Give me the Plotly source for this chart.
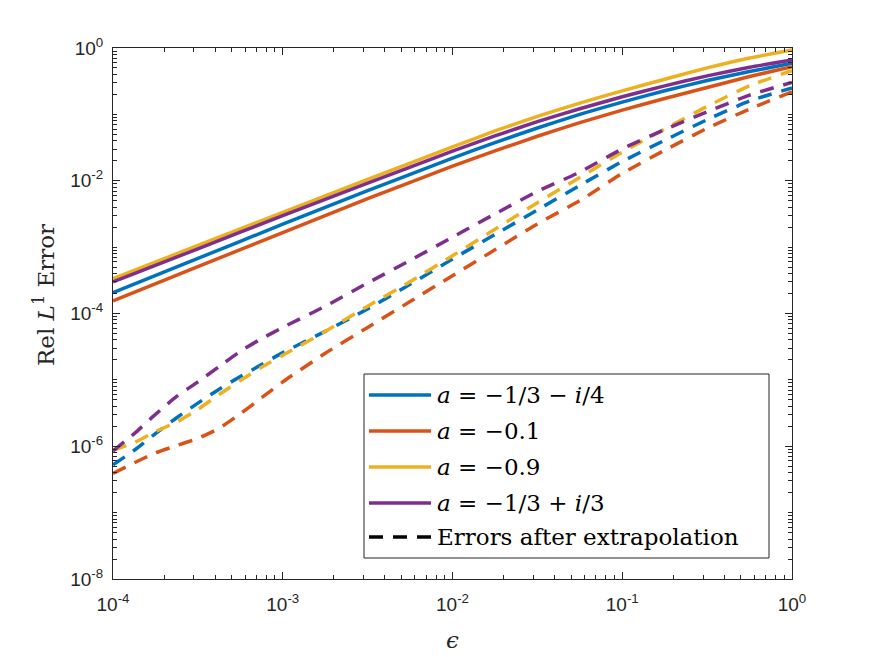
import numpy as np
import plotly.graph_objects as go

# ---------------- data (stored as log10) ----------------
solid_eps_log10 = [-4, -3.5, -3, -2.5, -2, -1.75, -1.5, -1.25, -1, -0.75, -0.5, -0.25, 0]
blue_solid_log10 = [-3.687, -3.17, -2.655, -2.15, -1.66, -1.425, -1.205, -1.0, -0.815, -0.645, -0.49, -0.355, -0.23]
orange_solid_log10 = [-3.81, -3.295, -2.78, -2.27, -1.78, -1.55, -1.33, -1.125, -0.935, -0.76, -0.595, -0.43, -0.28]
yellow_solid_log10 = [-3.475, -2.975, -2.475, -1.98, -1.49, -1.25, -1.03, -0.83, -0.645, -0.47, -0.30, -0.15, -0.03]
purple_solid_log10 = [-3.525, -3.025, -2.525, -2.035, -1.555, -1.325, -1.11, -0.915, -0.735, -0.57, -0.42, -0.29, -0.18]

dash_eps_log10 = [-4, -3.875, -3.75, -3.625, -3.5, -3.375, -3.25, -3.125, -3, -2.75, -2.5,
                  -2.25, -2, -1.75, -1.5, -1.25, -1, -0.75, -0.5, -0.25, 0]
blue_dash_log10 = [-6.28, -6.06, -5.81, -5.57, -5.35, -5.14, -4.95, -4.77, -4.59, -4.27, -3.93,
                   -3.56, -3.18, -2.81, -2.44, -2.07, -1.71, -1.39, -1.08, -0.80, -0.60]
orange_dash_log10 = [-6.41, -6.25, -6.10, -5.99, -5.88, -5.73, -5.51, -5.27, -5.03, -4.60, -4.21,
                     -3.82, -3.43, -3.04, -2.65, -2.30, -1.89, -1.54, -1.21, -0.92, -0.66]
yellow_dash_log10 = [-6.06, -5.945, -5.78, -5.635, -5.445, -5.22, -5.01, -4.81, -4.63, -4.27, -3.89,
                     -3.52, -3.13, -2.73, -2.33, -1.95, -1.57, -1.22, -0.88, -0.57, -0.34]
purple_dash_log10 = [-6.07, -5.81, -5.52, -5.25, -5.03, -4.80, -4.57, -4.38, -4.21, -3.89, -3.54,
                     -3.20, -2.85, -2.50, -2.16, -1.87, -1.52, -1.23, -0.96, -0.71, -0.52]

series_labels = ["<i>a</i> = −1/3 − <i>i</i>/4", "<i>a</i> = −0.1", "<i>a</i> = −0.9",
                 "<i>a</i> = −1/3 + <i>i</i>/3"]
extrap_label = "Errors after extrapolation"
x_tick_vals = [1e-4, 1e-3, 1e-2, 1e-1, 1e0]
x_tick_text = ["10<sup>-4</sup>", "10<sup>-3</sup>", "10<sup>-2</sup>", "10<sup>-1</sup>", "10<sup>0</sup>"]
y_tick_vals = [1e-8, 1e-6, 1e-4, 1e-2, 1e0]
y_tick_text = ["10<sup>-8</sup>", "10<sup>-6</sup>", "10<sup>-4</sup>", "10<sup>-2</sup>", "10<sup>0</sup>"]

colors = ["#0072BD", "#D95319", "#EDB120", "#7E2F8E"]
solid = [blue_solid_log10, orange_solid_log10, yellow_solid_log10, purple_solid_log10]
dashed = [blue_dash_log10, orange_dash_log10, yellow_dash_log10, purple_dash_log10]

W, H = 875, 657
L, R, T, B = 113, 83, 48, 78
PW, PH = W - L - R, H - T - B

fig = go.Figure()
for c, d, name in zip(colors, dashed, series_labels):
    fig.add_trace(go.Scatter(x=10 ** np.array(dash_eps_log10), y=10 ** np.array(d), mode="lines",
                             line=dict(color=c, width=3.5, dash="14px,10px", shape="spline", smoothing=0.6),
                             showlegend=False, name=name + " (extrapolated)"))
for c, s, name in zip(colors, solid, series_labels):
    fig.add_trace(go.Scatter(x=10 ** np.array(solid_eps_log10), y=10 ** np.array(s), mode="lines",
                             line=dict(color=c, width=3.5, shape="spline", smoothing=0.5),
                             showlegend=False, name=name))

# ---------------- custom legend box (MATLAB style) ----------------
def px(xp):
    return (xp - L) / PW

def py(yp):
    return (H - B - yp) / PH

shapes = [dict(type="rect", xref="paper", yref="paper", x0=px(364), x1=px(769), y0=py(558), y1=py(374),
               fillcolor="white", line=dict(color="#262626", width=1), layer="above")]
annotations = []
rows = [395, 431, 467, 503, 537]
legend_colors = colors + ["black"]
legend_texts = series_labels + [extrap_label]
for i, (yy, c, t) in enumerate(zip(rows, legend_colors, legend_texts)):
    shapes.append(dict(type="line", xref="paper", yref="paper", x0=px(369), x1=px(431), y0=py(yy), y1=py(yy),
                       line=dict(color=c, width=3.5, dash="14px,10px" if i == 4 else "solid"), layer="above"))
    annotations.append(dict(xref="paper", yref="paper", x=px(435), y=py(yy), xanchor="left", yanchor="middle",
                            text=t, showarrow=False,
                            font=dict(family="DejaVu Serif", size=23, color="black")))

annotations.append(dict(xref="paper", yref="paper", x=px(44), y=py(295), xanchor="center", yanchor="middle",
                        text="Rel <i>L</i><sup>1</sup> Error", textangle=-90, showarrow=False,
                        font=dict(family="DejaVu Serif", size=23, color="#262626")))

x_minor = [k * 10.0 ** n for n in range(-4, 0) for k in range(2, 10)]
y_minor = [k * 10.0 ** n for n in range(-8, 0) for k in range(1, 10) if not (k == 1 and n % 2 == 0)]

axis_common = dict(type="log", showline=True, linecolor="#262626", linewidth=1, mirror="allticks",
                   ticks="inside", ticklen=7, tickwidth=1, tickcolor="#262626", showgrid=False, zeroline=False,
                   tickfont=dict(family="Liberation Sans, Arial", size=19, color="#262626"))

fig.update_xaxes(range=[-4, 0], tickmode="array", tickvals=x_tick_vals, ticktext=x_tick_text,
                 ticklabelstandoff=8,
                 minor=dict(tickmode="array", tickvals=x_minor, ticks="inside", ticklen=4, tickcolor="#262626",
                            showgrid=False),
                 title=dict(text="<i>ϵ</i>", font=dict(family="DejaVu Serif", size=23, color="#262626"),
                            standoff=18),
                 **axis_common)
fig.update_yaxes(range=[-8, 0], tickmode="array", tickvals=y_tick_vals, ticktext=y_tick_text,
                 ticklabelstandoff=5,
                 minor=dict(tickmode="array", tickvals=y_minor, ticks="inside", ticklen=4, tickcolor="#262626",
                            showgrid=False),
                 **axis_common)

fig.update_layout(width=W, height=H, margin=dict(l=L, r=R, t=T, b=B, autoexpand=False),
                  paper_bgcolor="white", plot_bgcolor="white", showlegend=False,
                  shapes=shapes, annotations=annotations)

fig.write_html("out.html")
